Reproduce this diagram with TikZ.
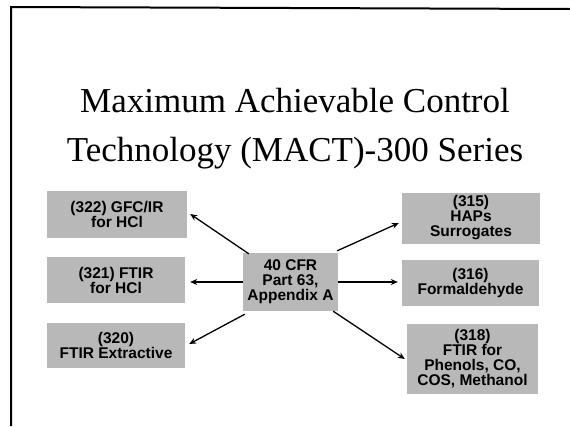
\documentclass[tikz,border=0pt]{standalone}
\usepackage{fontspec}
\newfontfamily\boxfont{Liberation Sans}
\newfontfamily\titlefont{Liberation Serif}
\usetikzlibrary{arrows.meta}
\definecolor{boxgray}{RGB}{184,184,184}
\tikzset{
  mbox/.style={rectangle, fill=boxgray, inner sep=0pt, align=center,
    font=\boxfont\bfseries\fontsize{15.5}{15}\selectfont},
  arr/.style={line width=1.3pt, -{Stealth[length=7pt,width=6pt]}},
  frame/.style={line width=2pt, black},
  titletext/.style={font=\titlefont\fontsize{35}{42}\selectfont, inner sep=0pt, anchor=base}
}
\begin{document}
\begin{tikzpicture}[x=1pt,y=-1pt]
\useasboundingbox (0,0) rectangle (570,426);
\draw[frame] (11,426) -- (11,7) -- (570,9);
\node[titletext] (t1) at (295,112) {Maximum Achievable Control};
\node[titletext] (t2) at (295,161) {Technology (MACT)-300 Series};

\node[mbox, minimum width=140pt, minimum height=47pt] (b322) at (117,214) {(322) GFC/IR\\for HCl};
\node[mbox, minimum width=138pt, minimum height=46pt] (b321) at (116,280) {(321) FTIR\\for HCl};
\node[mbox, minimum width=138pt, minimum height=45pt] (b320) at (116,345.5) {(320)\\FTIR Extractive};
\node[mbox, minimum width=95pt, minimum height=58pt] (bc) at (290.5,282) {40 CFR\\Part 63,\\Appendix A};
\node[mbox, minimum width=138pt, minimum height=51pt] (b315) at (471,218) {(315)\\HAPs\\Surrogates};
\node[mbox, minimum width=137pt, minimum height=46pt] (b316) at (470.5,283) {(316)\\Formaldehyde};
\node[mbox, minimum width=131pt, minimum height=70pt] (b318) at (472.5,359) {(318)\\FTIR for\\Phenols, CO,\\COS, Methanol};

\draw[arr] ([xshift=6pt,yshift=-1pt]bc.north west) -- ([xshift=3pt]b322.east);
\draw[arr] ([xshift=-1pt,yshift=2pt]bc.north east) -- ([xshift=-3pt,yshift=-5pt]b315.west);
\draw[arr] (bc.west) -- ([xshift=5pt]bc.west -| b321.east);
\draw[arr] ([xshift=2pt,yshift=-3pt]bc.south west) -- ([xshift=4pt,yshift=1.5pt]b320.east);
\draw[arr] (bc.east) -- ([xshift=-4pt]bc.east -| b316.west);
\draw[arr] ([xshift=-5pt]bc.south east) -- ([xshift=-2pt]b318.west);
\end{tikzpicture}
\end{document}
